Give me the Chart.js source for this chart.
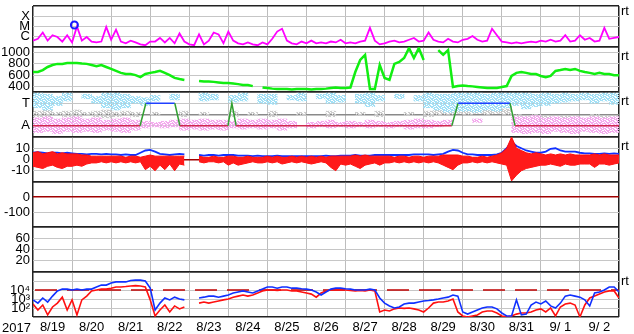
<!DOCTYPE html>
<html>
<head>
<meta charset="utf-8">
<script src="https://cdn.jsdelivr.net/npm/chart.js@4.4.1/dist/chart.umd.min.js"></script>
<style>
  html, body { margin: 0; padding: 0; background: #fff; }
  #wrap { position: relative; width: 634px; height: 334px; font-family: "Liberation Sans", Arial, sans-serif; }
  #wrap canvas { position: absolute; left: 0; top: 0; }
  .lbl { position: absolute; font-size: 13px; line-height: 13px; color: #000; white-space: nowrap; }
</style>
</head>
<body>
<div id="wrap">
  <canvas id="p1" width="634" height="334"></canvas>
  <canvas id="p2" width="634" height="334"></canvas>
  <canvas id="p3" width="634" height="334"></canvas>
  <canvas id="p4" width="634" height="334"></canvas>
  <canvas id="p5" width="634" height="334"></canvas>
  <canvas id="p6" width="634" height="334"></canvas>
  <canvas id="p7" width="634" height="334"></canvas>
  <span class="lbl" style="left:621px;top:4px">rt</span>
  <span class="lbl" style="left:621px;top:49px">rt</span>
  <span class="lbl" style="left:621px;top:94px">rt</span>
  <span class="lbl" style="left:621px;top:139px">rt</span>
  <span class="lbl" style="left:621px;top:274px">rt</span>
  <span class="lbl" style="left:2px;top:321px">2017</span>
</div>
<script>
// x axis: days since 2017-08-19 00:00, series sampled every 3 h
const DAY_LABELS = ["8/19", "8/20", "8/21", "8/22", "8/23", "8/24", "8/25", "8/26",
  "8/27", "8/28", "8/29", "8/30", "8/31", "9/ 1", "9/ 2"];
const STEP = 0.125;
const BIN = 0.25; // 6 h bins for the scatter bands of panel 3

// panel 1: x-ray flux, in units of 1e-7 W/m2
const XRAY = [4.2, 6.3, 26, 4.2, 14, 9.5, 3.4, 14, 2.8,
  100, 4.2, 9.5, 3.4, 2.8, 3.4, 90, 5.1,
  49, 3.4, 2.3, 4.2, 2.8, 1.8, 1.5, 3.4,
  3.4, 7.7, 2.8, 7.7, 2.3, 21, 3.4, 1.8,
  1.5, 17, 1.8, 4.2, 26, 17, 2.3, 32,
  4.2, 2.3, 1.8, 2.8, 1.8, 1.5, 2.8, 1.8,
  6.3, 32, 60, 4.2, 2.3, 1.8, 3.4, 2.3,
  4.2, 2.3, 2.8, 2.3, 3.4, 2.8, 5.1, 2.3,
  2.8, 2.3, 3.4, 4.2, 74, 4.2, 1.8, 2.3,
  3.4, 4.2, 2.8, 3.4, 5.1, 7.7, 3.4, 4.2,
  26, 5.1, 3.4, 2.8, 6.3, 3.4, 2.8, 5.1,
  6.3, 11.7, 5.1, 3.4, 4.2, 60, 14, 3.4,
  2.8, 2.3, 2.8, 2.3, 2.8, 3.4, 2.8, 4.2,
  3.4, 5.1, 3.4, 4.2, 14, 3.4, 4.2, 14,
  5.1, 7.7, 3.4, 4.2, 74, 6.3, 7.7, 9.5];
const FLARE_T = [1.06];
const FLARE_V = [141];

// panel 2: solar wind speed (km/s)
const SPEED = [655, 655, 690, 745, 780, 800, 800, 815, 815,
  815, 805, 800, 780, 760, 780, 745, 710,
  675, 640, 620, 620, 600, 565, 620, 640,
  655, 675, 640, 600, 550, 530, 515, null,
  null, 495, 485, 485, 480, 470, 460, 460,
  450, 440, 425, 425, 405, null, 380, 370,
  360, 355, 355, 355, 345, 355, 355, 355,
  345, 355, 355, 360, 370, 380, 370, 370,
  380, 655, 870, 960, 355, 355, 780, 550,
  515, 800, 835, 905, 1080, 905, 1080, 870,
  null, null, 1045, 960, 1045, 390, 405, 415,
  405, 400, 390, 380, 370, 370, 370, 390,
  405, 585, 640, 655, 640, 620, 620, 585,
  565, 585, 675, 690, 710, 690, 710, 675,
  655, 640, 620, 640, 620, 620, 600, 600];

// panel 3: T / A bands (6 h bins) and the state line
const SKY_LO = [2.6, 2.4, 2.8, 3.2, null, 3.4, 3.0, 2.6, 2.4, 2.6,
  3.0, 2.8, 3.2, null, 3.3, null, null, 3.2, 3.3, null,
  3.1, 3.2, null, 3.0, 2.9, null, 3.3, 3.2, null, 3.4,
  3.0, 3.1, null, 3.0, 2.7, 3.2, null, 3.4, null, 3.2,
  2.6, 2.4, 2.2, 2.3, 2.3, 2.2, 2.4, 2.3, 2.6, 2.8,
  2.5, 2.7, 2.8, 3.0, 3.1, 3.2, 3.3, 3.0, 3.2, 2.9];
const SKY_HI = [3.9, 3.8, 3.6, 3.9, null, 3.8, 3.6, 3.9, 3.9, 3.8,
  3.6, 3.5, 3.7, null, 3.8, null, null, 3.9, 3.8, null,
  3.7, 3.9, null, 3.8, 3.8, null, 3.7, 3.9, null, 3.8,
  3.9, 3.7, null, 3.8, 3.9, 3.7, null, 3.8, null, 3.7,
  3.9, 3.8, 3.8, 3.9, 3.9, 3.9, 3.8, 3.9, 3.9, 3.9,
  3.9, 3.8, 3.9, 3.8, 3.9, 3.8, 3.9, 3.8, 3.9, 3.9];
const PINK_LO = [0.4, 0.5, 0.3, 0.5, 0.4, 0.5, 0.4, 0.6, 0.5, 0.4,
  0.6, 0.8, 0.9, 0.8, 0.9, 0.6, 0.7, 0.6, 0.7, 0.6,
  0.8, 0.7, 0.8, 0.7, 0.8, 0.6, 0.8, null, 0.8, 0.9,
  0.8, 0.9, 0.8, 0.9, 0.8, 0.9, 0.8, 0.9, 0.7, 0.8,
  0.8, 0.9, 1.0, null, null, 1.3, null, null, null, 0.4,
  0.3, 0.4, 0.3, 0.5, 0.4, 0.3, 0.5, 0.4, 0.3, 0.4];
const PINK_HI = [1.7, 1.8, 1.6, 1.7, 1.8, 1.6, 1.7, 1.5, 1.6, 1.7,
  1.5, 1.4, 1.3, 1.4, 1.5, 1.6, 1.5, 1.6, 1.5, 1.5,
  1.4, 1.6, 1.5, 1.6, 1.5, 1.6, 1.4, null, 1.3, 1.4,
  1.5, 1.3, 1.4, 1.3, 1.5, 1.4, 1.3, 1.4, 1.5, 1.6,
  1.5, 1.4, 1.5, null, null, 1.6, null, null, null, 1.8,
  1.8, 1.9, 1.7, 1.8, 1.7, 1.8, 1.7, 1.8, 1.7, 1.8];
const GRAY_LO = [1.8, 1.7, 1.9, 1.8, 1.7, 1.9, 1.8, 1.7, 1.8, 1.9,
  1.8, null, 1.9, null, null, 1.8, null, 1.9, null, null,
  1.8, null, 1.9, null, 1.8, null, null, 1.9, null, null,
  1.8, null, null, 1.9, null, 1.8, null, null, 1.9, null,
  1.8, 1.9, 2.0, 2.1, 2.0, 2.1, 2.0, 2.1, 2.0, 1.4,
  1.2, 1.3, 1.4, null, 1.3, 1.2, null, 1.4, 1.3, 1.2];
const GRAY_HI = [2.3, 2.4, 2.2, 2.3, 2.4, 2.2, 2.3, 2.4, 2.2, 2.3,
  2.2, null, 2.2, null, null, 2.3, null, 2.2, null, null,
  2.3, null, 2.2, null, 2.3, null, null, 2.2, null, null,
  2.3, null, null, 2.2, null, 2.3, null, null, 2.2, null,
  2.3, 2.4, 2.6, 2.7, 2.6, 2.7, 2.6, 2.6, 2.5, 2.0,
  1.8, 2.0, 1.9, null, 1.9, 1.8, null, 2.0, 1.9, 1.8];
const STATE_T = [0, 2.74, 2.89, 3.63, 3.76, 4.99, 5.09, 5.2, 10.72, 10.88, 12.21, 12.34, 15];
const STATE_V = [1, 1, 3, 3, 1, 1, 3, 1, 1, 3, 3, 1, 1];

// panel 4: field components (nT) - red envelope per 3 h, blue magnitude
const BZ_HI = [6, 7, 5, 6, 7, 5, 6, 5, 5,
  5, 4, 4, 3, 3, 3, 3, 3,
  3, 3, 2, 3, 3, 2, 3, 4,
  3, 3, 3, 3, 3, 3, 3, null,
  null, 3, 2, 2, 3, 2, 2, 3,
  3, 2, 2, 3, 2, 2, 2, 3,
  2, 3, 2, 2, 3, 2, 3, 2,
  3, 2, 3, 2, 3, 3, 3, 3,
  3, 4, 3, 4, 3, 3, 3, 3,
  3, 2, 3, 3, 2, 3, 3, 2,
  3, 3, 3, 4, 4, 4, 4, 3,
  3, 2, 2, 3, 2, 3, 4, 6,
  10, 20, 10, 8, 6, 5, 6, 5,
  4, 5, 4, 5, 4, 5, 4, 4,
  4, 4, 5, 4, 5, 4, 4, 4];
const BZ_LO = [-6, -7, -8, -6, -5, -7, -8, -6, -6,
  -5, -6, -4, -3, -3, -2, -3, -2,
  -3, -2, -3, -2, -3, -2, -9, -6,
  -10, -5, -9, -4, -10, -4, -5, null,
  null, -2, -3, -2, -2, -3, -2, -5,
  -3, -5, -4, -3, -2, -3, -3, -2,
  -3, -2, -4, -3, -2, -3, -2, -3,
  -4, -3, -2, -3, -7, -10, -4, -5,
  -4, -6, -8, -5, -4, -3, -5, -3,
  -3, -2, -3, -2, -3, -2, -3, -2,
  -3, -2, -3, -5, -7, -9, -5, -3,
  -3, -2, -3, -2, -3, -2, -3, -4,
  -5, -19, -14, -10, -8, -7, -6, -5,
  -5, -4, -5, -6, -4, -5, -5, -4,
  -4, -4, -7, -4, -4, -5, -4, -3];
const BT = [6, 6.5, 6, 5.5, 6, 6, 5.5, 6, 5.5,
  5, 5, 4.5, 5, 5, 4.5, 5, 4.5,
  4.5, 4, 4.5, 4, 4, 6, 8, 8.5,
  7, 5, 4.5, 4, 4.5, 5, 4.5, null,
  null, 4, 3.5, 4, 4, 3.5, 4, 4,
  4, 3.5, 3.5, 3.5, 3, 3.5, 3, 3,
  3, 3.5, 3, 3, 3, 3, 3, 3,
  3, 3, 3, 3.5, 3, 3, 3.5, 3.5,
  3.5, 4, 3.5, 3.5, 3.5, 4, 4, 4,
  4, 4, 4, 4, 4, 4.5, 4.5, 4.5,
  4.5, 4, 4.5, 5, 7, 8.5, 8, 6,
  4.5, 4.5, 4, 4, 4, 4, 4.5, 6,
  10, 16, 12, 10, 8, 7, 6, 6,
  7, 9.5, 10, 8, 7, 7, 7, 6,
  5.5, 5.5, 5, 5, 5.5, 5, 5.5, 5];

// panel 7: electron flux, two channels
const FLUX_BLUE = [800, 350, 1300, 460, 2100, 7900, 12600, 12600, 10000,
  12600, 10000, 12600, 12600, 21500, 35000, 35000, 60000,
  79000, 79000, 79000, 112000, 126000, 126000, 100000, 16000,
  60, 350, 1300, 800, 1600, 1000, 800, null,
  null, 1300, 1600, 2100, 2100, 1600, 2100, 2800,
  4600, 6000, 7900, 6000, 4600, 7900, 12600, 21500,
  21500, 16000, 21500, 21500, 16000, 16000, 14000, 12600,
  10000, 6000, 2800, 6000, 12600, 16000, 16000, 14000,
  12600, 10000, 10000, 10000, 12600, 10000, 1300, 350,
  170, 100, 130, 280, 350, 350, 460, 600,
  680, 800, 1000, 1300, 1600, 2800, 2100, 36,
  21, 36, 60, 100, 130, 130, 80, 28,
  13, 13, 800, 17, 21, 215, 460, 280,
  600, 170, 100, 350, 2100, 2800, 2100, 1600,
  800, 170, 4600, 6000, 10000, 21500, 21500, 6000];
const FLUX_RED = [280, 60, 215, 17, 130, 350, 1600, 60, 800,
  17, 800, 2100, 7900, 10000, 12600, 12600, 16000,
  21500, 21500, 24000, 28000, 31000, 28000, 21500, 800,
  13, 60, 215, 36, 170, 80, 130, null,
  null, 350, 460, 350, 460, 600, 800, 1000,
  1600, 2100, 2800, 2100, 2800, 4600, 7900, 10000,
  10000, 8900, 10000, 10000, 7900, 7900, 6000, 4600,
  3500, 1600, 4600, 7900, 10000, 10000, 10000, 10000,
  8900, 7900, 8900, 7900, 10000, 7900, 36, 60,
  46, 80, 100, 90, 100, 80, 60, 36,
  100, 350, 460, 460, 600, 1000, 36, 13,
  10, 13, 17, 36, 46, 46, 28, 13,
  10, 13, 21, 28, 28, 36, 60, 80,
  36, 100, 13, 130, 280, 350, 215, 10,
  215, 1300, 2100, 3500, 6000, 7900, 7900, 1300];
const FLUX_ALERT = 10000;

const PANEL_EDGES = [2, 47, 92, 137, 182, 227, 272, 317];
const EDGE_COLOR = "#222";
const GRID_COLOR = "#c6c6c6";
const ZERO_RED = "#a00000";

Chart.defaults.font.family = '"Liberation Sans", Arial, sans-serif';
Chart.defaults.font.size = 13;
Chart.defaults.color = "#000";

const nDays = DAY_LABELS.length;
const xTicks = [];
for (let i = 0; i <= nDays * 2; i++) xTicks.push(i / 2);

const series = (vals, step) => vals.map((v, i) => ({ x: i * step, y: v }));
const bands = (lo, hi) => lo.map((v, k) => ({ x: (k + 0.5) * BIN, y: v == null ? null : [v, hi[k]] }));
const tickVal = (c) => (c.tick ? c.tick.value : NaN);

// stippled fill so the dense point clouds of panel 3 read as speckle
const SPECKLE_ROWS = ["11011100", "01110110", "11001011", "10111101",
  "11100110", "00111011", "11011110", "10110011"];
function speckle(color) {
  const tile = document.createElement("canvas");
  tile.width = 8; tile.height = 8;
  const g = tile.getContext("2d");
  g.fillStyle = color;
  SPECKLE_ROWS.forEach((row, y) => {
    for (let x = 0; x < row.length; x++) if (row[x] === "1") g.fillRect(x, y, 1, 1);
  });
  return g.createPattern(tile, "repeat");
}

function xScale(showDates) {
  return {
    type: "linear", min: 0, max: nDays, offset: false,
    afterBuildTicks: (s) => { s.ticks = xTicks.map((v) => ({ value: v })); },
    afterFit: (s) => { s.height = showDates ? 17 : 0; s.paddingLeft = 0; s.paddingRight = 0; },
    border: { display: false },
    grid: {
      offset: false,
      drawTicks: false,
      color: (c) => {
        const v = tickVal(c);
        if (!(v % 1 === 0)) return "rgba(0,0,0,0)";
        return v === 0 || v === nDays ? EDGE_COLOR : "#bdbdbd";
      },
      lineWidth: (c) => (tickVal(c) === 0 || tickVal(c) === nDays ? 1.5 : 1),
    },
    ticks: {
      display: showDates, autoSkip: false, maxRotation: 0, padding: 3,
      callback: (v) => (v % 1 === 0.5 ? DAY_LABELS[Math.floor(v)] : ""),
    },
  };
}

function yScale(c) {
  const edges = [c.min, c.max];
  return {
    type: c.type || "linear", min: c.min, max: c.max,
    afterBuildTicks: (s) => { s.ticks = [c.min, ...c.grid, c.max].map((v) => ({ value: v })); },
    afterFit: (s) => { s.width = 33; s.paddingTop = 0; s.paddingBottom = 0; },
    border: { display: false },
    grid: {
      offset: false,
      drawTicks: false,
      color: (g) => edges.includes(tickVal(g)) ? EDGE_COLOR : ((c.lineColors || {})[tickVal(g)] || GRID_COLOR),
      lineWidth: (g) => edges.includes(tickVal(g)) ? 1.5 : ((c.lineWidths || {})[tickVal(g)] || 1),
    },
    ticks: { autoSkip: false, padding: 3, callback: (v) => c.labels[v] ?? "" },
  };
}

function panel(id, idx, y, datasets) {
  const last = idx === PANEL_EDGES.length - 2;
  return new Chart(document.getElementById(id), {
    type: "line",
    data: { datasets },
    options: {
      responsive: false, animation: false, devicePixelRatio: 1,
      layout: { padding: { left: 0, right: 15, top: PANEL_EDGES[idx], bottom: last ? 0 : 334 - PANEL_EDGES[idx + 1] } },
      plugins: { legend: { display: false }, tooltip: { enabled: false } },
      elements: { point: { radius: 0 }, line: { tension: 0 } },
      scales: { x: xScale(last), y: yScale(y) },
    },
  });
}

// ── 1: x-ray ────────────────────────────────────────────
panel("p1", 0,
  { type: "logarithmic", min: 1, max: 10000, grid: [10, 100, 1000], labels: { 10: "C", 100: "M", 1000: "X" } },
  [
    { data: FLARE_T.map((t, i) => ({ x: t, y: FLARE_V[i] })), showLine: false, pointRadius: 3.5,
      pointBorderColor: "#1a1aff", pointBorderWidth: 2, pointBackgroundColor: "rgba(255,255,255,0)" },
    { data: series(XRAY, STEP), borderColor: "#ff00ff", borderWidth: 1.8 },
  ]);

// ── 2: speed ────────────────────────────────────────────
panel("p2", 1,
  { min: 300, max: 1100, grid: [400, 600, 800, 1000], labels: { 400: "400", 600: "600", 800: "800", 1000: "1000" } },
  [{ data: series(SPEED, STEP), borderColor: "#11ee11", borderWidth: 2.5 }]);

// ── 3: T / A ────────────────────────────────────────────
// datasets listed top-most first: state line, pink, sky, then the sparse gray underneath
const bandStyle = { type: "bar", grouped: false, categoryPercentage: 1, barPercentage: 1 };
panel("p3", 2,
  { min: 0, max: 4, grid: [1, 2, 3], labels: { 1: "A", 3: "T" }, lineColors: { 2: "#8a8a8a" }, lineWidths: { 2: 1.5 } },
  [
    { data: STATE_T.map((t, i) => ({ x: t, y: STATE_V[i] })), borderWidth: 1.5, borderColor: "#2040ff",
      segment: { borderColor: (s) => s.p0.parsed.y !== s.p1.parsed.y ? "#30a030" : (s.p0.parsed.y === 3 ? "#2040ff" : "#d02a50") } },
    { ...bandStyle, data: bands(PINK_LO, PINK_HI), backgroundColor: speckle("#f4aaee") },
    { ...bandStyle, data: bands(SKY_LO, SKY_HI), backgroundColor: speckle("#a2e0f6") },
    { ...bandStyle, data: bands(GRAY_LO, GRAY_HI), backgroundColor: speckle("#cccccc") },
  ]);

// ── 4: field ────────────────────────────────────────────
panel("p4", 3,
  { min: -20, max: 20, grid: [-10, 0, 10], labels: { 10: "10", 0: "0", "-10": "-10" }, lineColors: { 0: ZERO_RED }, lineWidths: { 0: 1.5 } },
  [
    { data: series(BZ_HI, STEP), borderColor: "#ff0a0a", borderWidth: 1, backgroundColor: "#ff1a1a", fill: "+1" },
    { data: series(BZ_LO, STEP), borderColor: "#ff0a0a", borderWidth: 1 },
    { data: series(BT, STEP), borderColor: "#1030ff", borderWidth: 1.8 },
  ]);

// ── 5 / 6: empty panels ─────────────────────────────────
panel("p5", 4,
  { min: -200, max: 100, grid: [-100, 0], labels: { 0: "0", "-100": "-100" }, lineColors: { 0: ZERO_RED }, lineWidths: { 0: 1.5 } },
  []);
panel("p6", 5,
  { min: 0, max: 80, grid: [20, 40, 60], labels: { 20: "20", 40: "40", 60: "60" } },
  []);

// ── 7: electron flux ────────────────────────────────────
panel("p7", 6,
  { type: "logarithmic", min: 10, max: 1000000, grid: [100, 1000, 10000, 100000], labels: { 100: "10²", 1000: "10³", 10000: "10⁴" } },
  [
    { data: series(FLUX_BLUE, STEP), borderColor: "#1030ff", borderWidth: 1.6 },
    { data: series(FLUX_RED, STEP), borderColor: "#ff1010", borderWidth: 1.6 },
    { data: [{ x: 0, y: FLUX_ALERT }, { x: nDays, y: FLUX_ALERT }], borderColor: "#c00000", borderWidth: 1.5,
      borderDash: [22, 10], borderDashOffset: 30 },
  ]);
</script>
</body>
</html>
